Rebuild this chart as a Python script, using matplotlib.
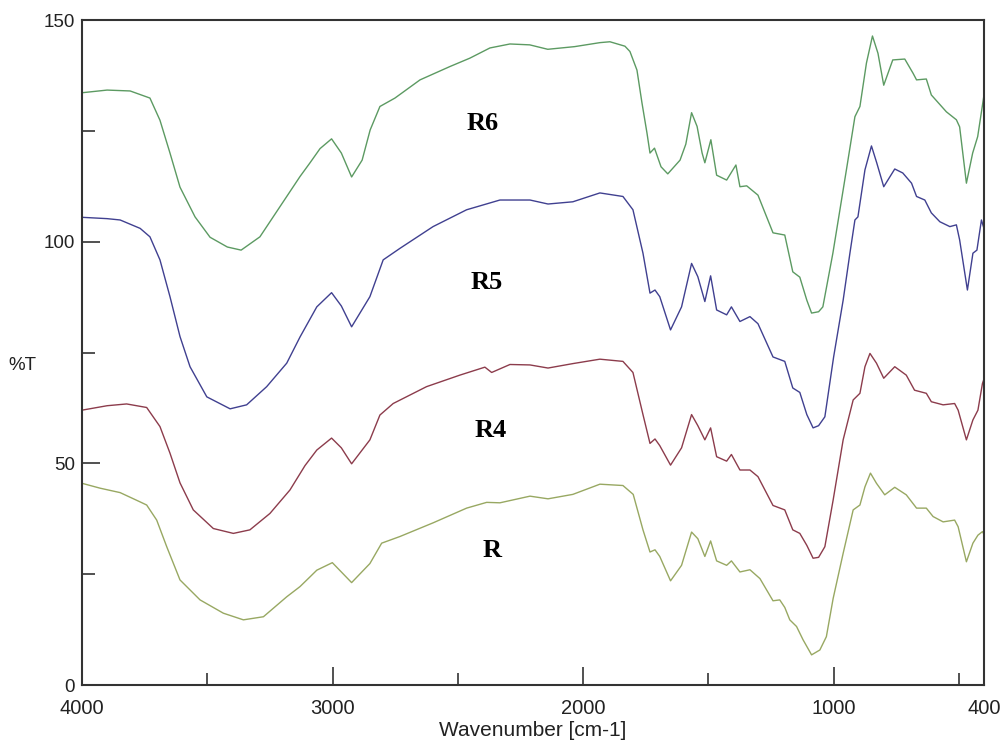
import numpy as np
import matplotlib
matplotlib.use('Agg')
import matplotlib.pyplot as plt

wn_r6 = [4000, 3900, 3808, 3729, 3689, 3649, 3609, 3549, 3489, 3420, 3365, 3290, 3210, 3130, 3090,
         3050, 3004, 2965, 2924, 2882, 2850, 2811, 2751, 2651, 2532, 2452, 2372, 2292, 2213, 2141,
         2034, 1933, 1893, 1833, 1813, 1785, 1765, 1745, 1733, 1715, 1689, 1662, 1613, 1590, 1567,
         1545, 1525, 1514, 1490, 1467, 1427, 1390, 1374, 1347, 1302, 1242, 1195, 1163, 1135, 1107,
         1088, 1060, 1043, 1003, 949, 915, 895, 869, 845, 823, 800, 764, 716, 683, 669, 630, 610,
         550, 510, 497, 470, 445, 425, 400]
t_r6 = [133.6, 134.2, 134.0, 132.4, 127.4, 120.0, 112.3, 105.6, 101.0, 98.8, 98.1, 101.1, 107.9, 114.7, 117.8,
        121.0, 123.2, 120.0, 114.6, 118.4, 125.2, 130.5, 132.4, 136.5, 139.5, 141.4, 143.7, 144.6, 144.4, 143.4,
        144.0, 144.9, 145.1, 144.1, 142.9, 138.7, 131.3, 124.5, 120.0, 121.1, 116.9, 115.3, 118.4, 122.0, 129.1,
        126.0, 120.0, 117.8, 123.0, 115.0, 113.9, 117.3, 112.4, 112.6, 110.5, 102.0, 101.5, 93.2, 92.0, 86.8,
        83.9, 84.2, 85.3, 97.4, 116.2, 128.2, 130.5, 140.3, 146.4, 142.5, 135.3, 141.0, 141.2, 138.0, 136.5, 136.7, 133.1,
        129.3, 127.5, 125.9, 113.2, 120.0, 123.7, 133.0]

wn_r5 = [4000, 3900, 3848, 3768, 3729, 3689, 3649, 3609, 3569, 3502, 3409, 3343, 3263, 3183, 3130,
         3063, 3004, 2965, 2924, 2851, 2798, 2731, 2599, 2465, 2332, 2212, 2140, 2041, 1933, 1841,
         1801, 1761, 1733, 1713, 1694, 1651, 1607, 1567, 1542, 1514, 1491, 1467, 1427, 1408, 1374,
         1334, 1302, 1242, 1195, 1163, 1135, 1107, 1082, 1060, 1035, 1000, 962, 935, 915, 903, 875,
         849, 828, 800, 756, 724, 689, 669, 636, 610, 576, 536, 510, 497, 466, 444, 428, 410, 400]
t_r5 = [105.5, 105.2, 104.9, 103.0, 101.1, 95.9, 87.6, 78.6, 71.8, 65.0, 62.3, 63.2, 67.3, 72.6, 78.5,
        85.3, 88.5, 85.5, 80.8, 87.6, 95.9, 98.5, 103.4, 107.2, 109.4, 109.4, 108.5, 109.0, 111.0, 110.2,
        107.2, 97.4, 88.4, 89.1, 87.6, 80.1, 85.3, 95.1, 92.1, 86.5, 92.3, 84.6, 83.5, 85.3, 82.0,
        83.1, 81.5, 74.0, 73.0, 67.0, 66.0, 61.0, 58.0, 58.5, 60.5, 74.0, 86.8, 97.4, 104.9, 105.6, 116.2,
        121.6, 117.8, 112.4, 116.4, 115.5, 113.2, 110.2, 109.4, 106.5, 104.5, 103.4, 103.8, 100.4, 89.1, 97.4, 98.1, 104.9, 103.0]

wn_r4 = [4000, 3900, 3822, 3742, 3689, 3649, 3609, 3556, 3476, 3396, 3330, 3250, 3170, 3110, 3063,
         3004, 2965, 2924, 2851, 2811, 2758, 2625, 2492, 2392, 2365, 2292, 2212, 2140, 2041, 1933,
         1841, 1801, 1761, 1733, 1713, 1694, 1651, 1607, 1567, 1542, 1514, 1491, 1467, 1427, 1408,
         1374, 1334, 1302, 1242, 1195, 1163, 1135, 1107, 1082, 1060, 1035, 1002, 962, 922, 895, 875,
         855, 829, 800, 756, 710, 677, 630, 610, 563, 517, 503, 470, 444, 424, 406, 400]
t_r4 = [62.0, 63.0, 63.4, 62.6, 58.3, 52.3, 45.6, 39.5, 35.3, 34.2, 35.0, 38.7, 44.0, 49.5, 53.0,
        55.7, 53.5, 49.9, 55.3, 60.9, 63.5, 67.3, 69.9, 71.7, 70.5, 72.3, 72.2, 71.5, 72.5, 73.5,
        73.0, 70.5, 61.0, 54.5, 55.5, 54.0, 49.6, 53.5, 61.0, 58.5, 55.3, 58.0, 51.5, 50.5, 52.0,
        48.5, 48.5, 47.0, 40.5, 39.5, 35.0, 34.2, 31.5, 28.6, 28.8, 31.2, 41.7, 55.3, 64.3, 65.8, 71.8,
        74.8, 72.6, 69.2, 71.8, 69.9, 66.5, 65.8, 63.9, 63.2, 63.5, 62.0, 55.3, 59.8, 62.0, 68.0, 69.0]

wn_r = [4000, 3928, 3848, 3768, 3742, 3702, 3662, 3609, 3529, 3436, 3356, 3276, 3183, 3130, 3090,
        3063, 3001, 2965, 2924, 2851, 2804, 2731, 2598, 2465, 2385, 2332, 2212, 2140, 2041, 1933,
        1841, 1800, 1761, 1733, 1713, 1694, 1651, 1607, 1567, 1542, 1514, 1491, 1467, 1427, 1408,
        1374, 1334, 1294, 1242, 1215, 1195, 1175, 1148, 1122, 1088, 1055, 1029, 1002, 962, 922, 895,
        875, 853, 829, 796, 756, 710, 669, 630, 603, 563, 517, 503, 470, 444, 424, 406, 400]
t_r = [45.5, 44.4, 43.4, 41.3, 40.6, 37.2, 31.2, 23.7, 19.2, 16.2, 14.7, 15.4, 19.9, 22.2, 24.4,
       25.9, 27.6, 25.5, 23.1, 27.4, 32.0, 33.5, 36.6, 39.9, 41.2, 41.1, 42.6, 42.0, 43.0, 45.3,
       45.0, 43.0, 35.0, 30.0, 30.5, 29.0, 23.5, 27.0, 34.5, 33.0, 29.0, 32.5, 28.0, 27.0, 28.0,
       25.5, 26.0, 24.0, 19.0, 19.2, 17.5, 14.7, 13.2, 10.2, 6.8, 7.9, 10.9, 19.5, 29.7, 39.5, 40.6,
       44.7, 47.8, 45.5, 42.9, 44.6, 42.9, 39.9, 39.9, 38.0, 36.8, 37.2, 35.7, 27.8, 32.0, 33.8, 34.6, 34.0]

labels = ['R6', 'R5', 'R4', 'R']
label_pos = [(2401, 126.6), (2385, 90.7), (2369, 57.4), (2365, 30.3)]

fig = plt.figure(figsize=(10.03, 7.42), dpi=100)
ax = fig.add_axes([0.0818, 0.0768, 0.8992, 0.8962])

ax.plot(wn_r6, t_r6, color='#5c9a62', lw=1.0)
ax.plot(wn_r5, t_r5, color='#404090', lw=1.0)
ax.plot(wn_r4, t_r4, color='#8c3c4c', lw=1.0)
ax.plot(wn_r, t_r, color='#98a862', lw=1.0)

for lab, (x, y) in zip(labels, label_pos):
    ax.text(x, y, lab, ha='center', va='center', fontsize=19, fontweight='bold',
            family='Liberation Serif', color='black')

ax.set_xlim(4000, 400)
ax.set_ylim(0, 150)
ax.set_xticks([4000, 3000, 2000, 1000, 400])
ax.set_xticks([3500, 2500, 1500, 500], minor=True)
ax.set_yticks([0, 50, 100, 150])
ax.set_yticks([25, 75, 125], minor=True)
ax.tick_params(which='both', direction='in', color='#333333', width=1.2,
               labelcolor='#222222')
ax.tick_params(which='major', length=13)
ax.tick_params(which='minor', length=9)
ax.tick_params(axis='y', pad=5, labelsize=13.5)
ax.tick_params(axis='x', pad=10, labelsize=14.5)
for lbl in ax.get_xticklabels() + ax.get_yticklabels():
    lbl.set_family('Liberation Sans')
for sp in ax.spines.values():
    sp.set_color('#333333')
    sp.set_linewidth(1.5)

ax.set_xlabel('Wavenumber [cm-1]', fontsize=15, family='Liberation Sans', color='#222222', labelpad=2)
fig.text(0.022, 0.508, '%T', fontsize=13.5, family='Liberation Sans', color='#222222',
         ha='center', va='center')

fig.savefig('out.png', dpi=100)
